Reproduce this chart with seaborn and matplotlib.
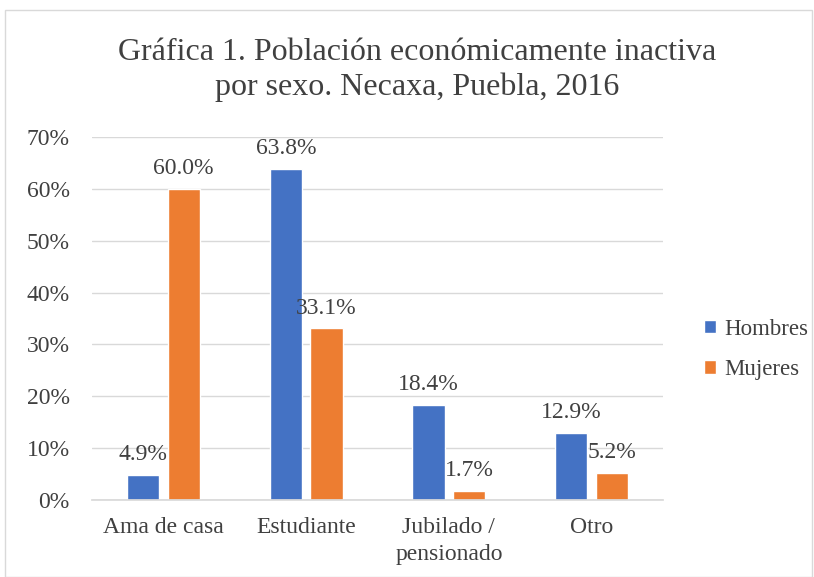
import matplotlib
matplotlib.use("Agg")
import matplotlib.pyplot as plt
import seaborn as sns
import pandas as pd
from matplotlib.patches import Rectangle

categories = ["Ama de casa", "Estudiante", "Jubilado /\npensionado", "Otro"]
hombres = [4.9, 63.8, 18.4, 12.9]
mujeres = [60.0, 33.1, 1.7, 5.2]
series = ["Hombres", "Mujeres"]
colors = ["#4472C4", "#ED7D31"]

df = pd.DataFrame({
    "cat": categories * 2,
    "val": hombres + mujeres,
    "sexo": [series[0]] * 4 + [series[1]] * 4,
})

sns.set_theme(style="white")
plt.rcParams['font.family'] = ['Liberation Serif', 'DejaVu Serif']

fig = plt.figure(figsize=(8.14, 5.77), dpi=100)
ax = fig.add_axes([92/814, 1 - 500/577, (663-92)/814, (500-137)/577])

sns.barplot(data=df, x="cat", y="val", hue="sexo", palette=colors,
            width=0.57, gap=0.21, ax=ax, saturation=1)

for cont in ax.containers:
    ax.bar_label(cont, labels=[f"{v.get_height():.1f}%" for v in cont],
                 padding=7, fontsize=17, color="#404040")

ax.set_ylim(0, 70)
ax.set_yticks(range(0, 71, 10))
ax.set_yticklabels([f"{t}%" for t in range(0, 71, 10)], fontsize=17, color="#404040")
ax.set_xticks(range(len(categories)))
ax.set_xticklabels(categories, fontsize=17, color="#404040", linespacing=1.4)
ax.tick_params(axis='x', length=0, pad=12)
ax.tick_params(axis='y', length=0, pad=16)
ax.set_xlabel("")
ax.set_ylabel("")
ax.grid(axis='y', color="#D9D9D9", linewidth=1)
ax.set_axisbelow(True)
for s in ["left", "right", "top"]:
    ax.spines[s].set_visible(False)
ax.spines["bottom"].set_color("#D9D9D9")
ax.set_xlim(-0.5, 3.5)

leg = ax.legend(loc="center left", bbox_to_anchor=(1.035, 0.415), frameon=False,
                fontsize=16.5, handlelength=0.55, handleheight=0.55, labelspacing=0.85,
                handletextpad=0.35)
for t in leg.get_texts():
    t.set_color("#404040")

fig.text(417/814, 1 - 70/577,
         "Gráfica 1. Población económicamente inactiva\npor sexo. Necaxa, Puebla, 2016",
         ha="center", va="center", fontsize=23, color="#404040", linespacing=1.22)

fig.patches.append(Rectangle((5/814, 0), 807/814, 1 - 10/577, transform=fig.transFigure,
                             fill=False, edgecolor="#D9D9D9", linewidth=1))

fig.savefig("out.png", dpi=100, facecolor="white")
